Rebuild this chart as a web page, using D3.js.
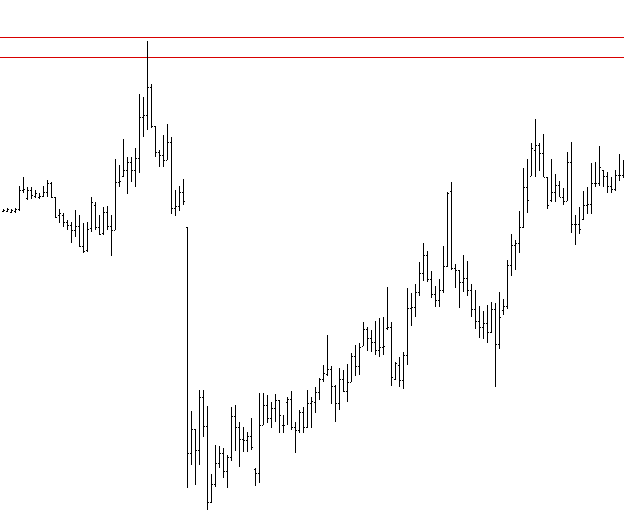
<!doctype html>
<html>
<head>
<meta charset='utf-8'>
<script src='https://d3js.org/d3.v7.min.js'></script>
<style>
  html, body { margin: 0; padding: 0; background: #fff; }
  svg { display: block; }
</style>
</head>
<body>
<svg width='624' height='525'></svg>
<script>
// daily bars, one per session
var open = [389,389,388,389,391,410,402,410,404,403,404,408,417,403,385,385,378,375,370,374,
  354,350,372,395,373,367,388,374,370,418,424,430,438,430,442,483,485,513,474,448,
  445,440,458,392,394,408,373,147,171,150,203,174,98,116,137,147,129,143,184,173,
  161,160,164,131,127,175,195,182,192,200,175,198,201,173,170,188,173,197,198,208,
  221,226,231,214,197,221,209,218,244,234,254,271,262,258,250,253,272,273,221,235,
  220,245,292,293,308,327,345,321,306,300,310,334,409,332,330,318,322,310,291,279,
  273,277,268,291,256,290,294,335,355,357,373,413,424,450,455,447,423,400,408,415,
  403,399,438,376,376,381,395,396,417,417,430,424,414,411,425,425];
var high = [391,392,391,392,414,423,413,413,410,407,414,420,418,403,391,387,380,378,390,385,
  377,378,403,398,385,393,394,385,441,435,461,443,443,452,506,503,559,516,474,450,
  465,476,463,410,414,421,373,189,171,210,210,194,126,155,154,152,145,193,195,178,
  173,168,182,132,207,207,205,198,206,200,185,203,209,178,190,193,210,203,213,222,
  235,265,234,215,232,230,236,247,255,257,278,273,270,279,282,283,313,278,238,243,
  248,312,307,316,338,357,349,329,314,321,354,408,418,336,330,345,339,316,310,294,
  289,295,298,297,308,301,340,366,360,389,432,441,457,481,457,466,423,441,426,419,
  412,448,458,385,393,409,413,437,438,454,430,428,423,430,446,440];
var low = [388,388,387,387,389,407,400,401,402,401,403,403,402,382,377,373,370,357,363,353,
  347,348,368,370,365,365,370,344,370,413,423,406,418,413,427,463,470,472,443,433,
  433,440,386,384,389,395,112,135,115,135,163,90,97,113,132,122,112,139,149,133,
  148,148,150,114,117,175,177,172,178,167,167,175,170,147,167,167,172,172,187,200,
  218,224,196,178,190,208,198,218,224,225,254,249,248,245,243,245,270,214,220,213,
  211,235,274,283,304,319,318,302,293,293,307,333,330,312,292,308,304,283,271,262,
  261,257,267,213,251,285,291,324,330,347,372,387,424,423,429,423,391,398,398,403,
  395,399,367,355,366,380,386,386,413,414,413,407,407,409,419,422];
var close = [390,391,390,391,410,411,410,405,407,404,408,417,403,383,387,378,375,370,374,354,
  349,371,398,373,366,388,374,370,418,419,430,438,430,442,483,485,513,474,448,445,
  440,458,392,394,408,399,147,171,150,203,174,98,116,137,147,129,143,184,173,161,
  160,164,153,127,175,195,182,192,200,185,175,201,173,170,188,173,197,199,208,221,
  227,231,214,197,221,209,218,244,234,253,271,262,258,250,253,254,273,223,237,220,
  245,292,293,308,327,345,321,306,300,310,334,407,332,330,318,322,310,291,279,273,
  277,268,291,256,283,294,335,355,357,373,413,400,452,455,447,423,395,408,415,403,
  399,438,376,376,371,395,396,417,417,433,424,414,411,425,425,430];
var levels = [563, 543];

var svg = d3.select('svg'),
    width = +svg.attr('width'),
    height = +svg.attr('height');

svg.append('rect').attr('width', width).attr('height', height).attr('fill', '#fff');

var n = open.length;
var x = d3.scaleLinear().domain([0, n - 1]).range([3, 623]);
var y = d3.scaleLinear().domain([75, 600]).range([525, 0]);

var data = d3.range(n).map(function(i) {
  return {i: i, o: open[i], h: high[i], l: low[i], c: close[i]};
});

svg.append('g')
  .selectAll('line')
  .data(levels)
  .enter().append('line')
  .attr('x1', 0)
  .attr('x2', width)
  .attr('y1', function(d) { return Math.round(y(d)) + 0.5; })
  .attr('y2', function(d) { return Math.round(y(d)) + 0.5; })
  .attr('stroke', '#d80000')
  .attr('stroke-width', 1)
  .attr('shape-rendering', 'crispEdges');

var bars = svg.append('g')
  .attr('stroke', '#000')
  .attr('stroke-width', 1)
  .attr('shape-rendering', 'crispEdges')
  .selectAll('g')
  .data(data)
  .enter().append('g');

bars.append('line')
  .attr('x1', function(d) { return x(d.i) + 0.5; })
  .attr('x2', function(d) { return x(d.i) + 0.5; })
  .attr('y1', function(d) { return y(d.h); })
  .attr('y2', function(d) { return y(d.l); });

bars.append('line')
  .attr('x1', function(d) { return x(d.i) - 1; })
  .attr('x2', function(d) { return x(d.i); })
  .attr('y1', function(d) { return y(d.o) + 0.5; })
  .attr('y2', function(d) { return y(d.o) + 0.5; });

bars.append('line')
  .attr('x1', function(d) { return x(d.i) + 1; })
  .attr('x2', function(d) { return x(d.i) + 2; })
  .attr('y1', function(d) { return y(d.c) + 0.5; })
  .attr('y2', function(d) { return y(d.c) + 0.5; });
</script>
</body>
</html>
